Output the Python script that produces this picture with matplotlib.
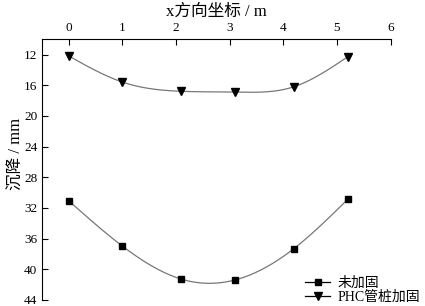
# settlement along x direction, with and without PHC piles
import matplotlib
matplotlib.use('Agg')
import matplotlib.pyplot as plt
import numpy as np

plt.rcParams['font.family'] = ['Liberation Serif', 'Noto Sans CJK SC']
plt.rcParams['axes.unicode_minus'] = False

# data
x_pos = [0, 1, 2.1, 3.1, 4.2, 5.2]
settle_none = [31.1, 37.0, 41.3, 41.4, 37.3, 30.9]
settle_phc = [12.2, 15.6, 16.8, 16.9, 16.2, 12.3]
labels = ['未加固', 'PHC管桩加固']


def natural_spline(x, y, n=200):
    # natural cubic spline through the points, only for drawing the curve
    x = np.asarray(x, float)
    y = np.asarray(y, float)
    k = len(x)
    h = np.diff(x)
    A = np.zeros((k, k))
    b = np.zeros(k)
    A[0, 0] = A[-1, -1] = 1
    for i in range(1, k - 1):
        A[i, i - 1] = h[i - 1]
        A[i, i] = 2 * (h[i - 1] + h[i])
        A[i, i + 1] = h[i]
        b[i] = 3 * ((y[i + 1] - y[i]) / h[i] - (y[i] - y[i - 1]) / h[i - 1])
    c = np.linalg.solve(A, b)
    xs = np.linspace(x[0], x[-1], n)
    idx = np.clip(np.searchsorted(x, xs) - 1, 0, k - 2)
    dx = xs - x[idx]
    hi = h[idx]
    bi = (y[idx + 1] - y[idx]) / hi - hi * (2 * c[idx] + c[idx + 1]) / 3
    di = (c[idx + 1] - c[idx]) / (3 * hi)
    ys = y[idx] + bi * dx + c[idx] * dx ** 2 + di * dx ** 3
    return xs, ys


fig = plt.figure(figsize=(4.25, 3.06), dpi=100)
ax = fig.add_axes([0.099, 0.02, 0.82, 0.852])

for ys, mk, ms, lab in [(settle_none, 's', 5, labels[0]), (settle_phc, 'v', 6, labels[1])]:
    sx, sy = natural_spline(x_pos, ys)
    ax.plot(sx, sy, '-', color='#777777', lw=0.9)
    ax.plot(x_pos, ys, mk, color='black', ms=ms, ls='none')
    # legend proxy
    ax.plot([], [], '-', color='black', lw=0.9, marker=mk, ms=ms, label=lab)

# axes
ax.set_xlim(-0.5, 6)
ax.set_ylim(44, 10)
ax.xaxis.tick_top()
ax.xaxis.set_label_position('top')
ax.set_xticks(range(0, 7))
ax.set_yticks(range(12, 45, 4))
ax.tick_params(direction='in', length=4, labelsize=9.5, width=0.8)
ax.spines['right'].set_visible(False)
ax.spines['bottom'].set_visible(False)
ax.set_xlabel('x方向坐标 / m', fontsize=12, labelpad=5)
ax.set_ylabel('沉降 / mm', fontsize=12)
ax.yaxis.set_label_coords(-0.05, 0.56)

# legend
ax.legend(loc='lower right', frameon=False, fontsize=10, handlelength=1.8,
          borderaxespad=0.0, labelspacing=0.05, handletextpad=0.5,
          bbox_to_anchor=(1.1, -0.035))

plt.savefig('out.png', dpi=100)
